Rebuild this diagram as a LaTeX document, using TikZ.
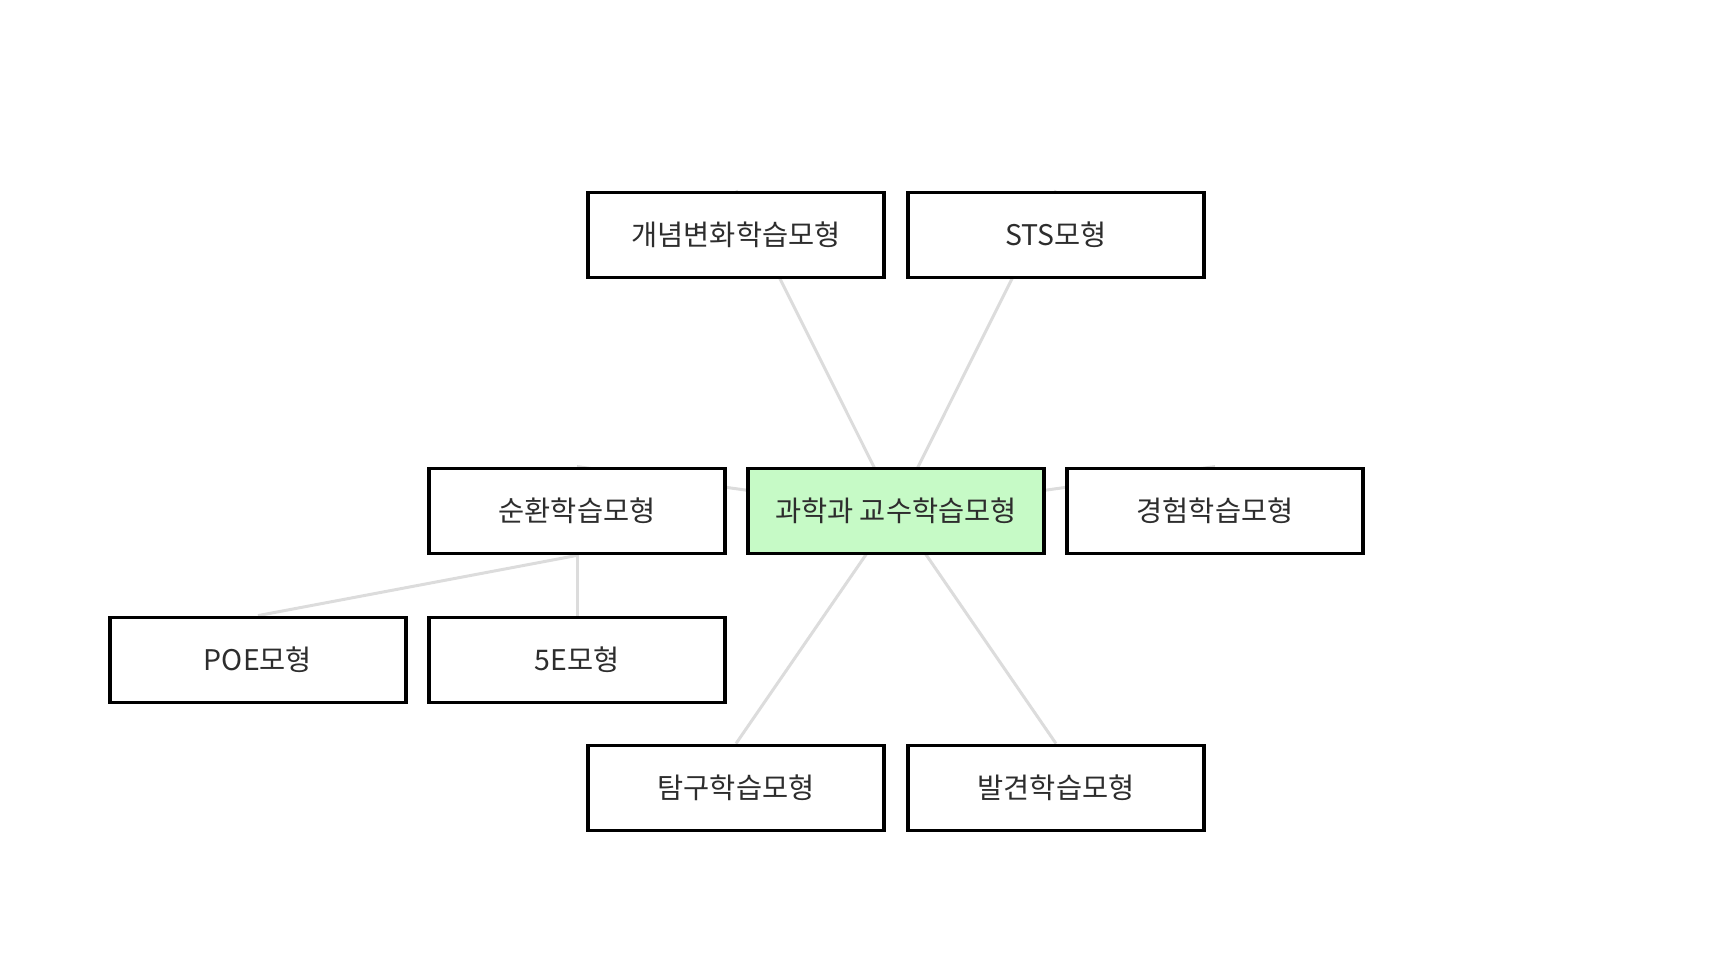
\documentclass[tikz,border=0pt]{standalone}
\usepackage{fontspec}
\newfontfamily\kr{Noto Sans CJK KR}
\usetikzlibrary{backgrounds}
\definecolor{edgegray}{RGB}{220,220,220}
\definecolor{txtgray}{RGB}{45,45,45}
\definecolor{centergreen}{RGB}{198,250,198}
\tikzset{
  box/.style={draw=black, line width=1.9pt, fill=white, minimum width=148pt, minimum height=42.5pt,
    inner sep=0pt, font=\kr\fontsize{14.2}{16}\selectfont, text=txtgray},
  centerbox/.style={box, fill=centergreen},
  link/.style={draw=edgegray, line width=1.5pt}
}
\begin{document}
\begin{tikzpicture}[x=0.5pt,y=-0.5pt]
\useasboundingbox (0,0) rectangle (1714,967);
\node[centerbox] (c) at (896,511) {과학과 교수학습모형};
\node[box] (k1) at (736,235) {개념변화학습모형};
\node[box] (k2) at (1056,235) {STS모형};
\node[box] (s) at (577,511) {순환학습모형};
\node[box] (e) at (1215,511) {경험학습모형};
\node[box] (p) at (258,660) {POE모형};
\node[box] (f) at (577,660) {5E모형};
\node[box] (t) at (736,788) {탐구학습모형};
\node[box] (b) at (1056,788) {발견학습모형};
\begin{pgfonlayer}{background}
\draw[link] (c.center) -- (k1.north);
\draw[link] (c.center) -- (k2.north);
\draw[link] (c.center) -- (s.north);
\draw[link] (c.center) -- (e.north);
\draw[link] (c.center) -- (t.north);
\draw[link] (c.center) -- (b.north);
\draw[link] (s.south) -- (p.north);
\draw[link] (s.south) -- (f.north);
\end{pgfonlayer}
\end{tikzpicture}
\end{document}
